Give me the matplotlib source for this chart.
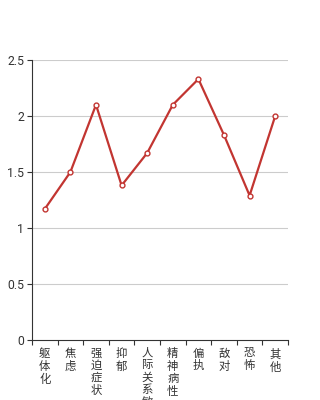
import matplotlib
matplotlib.use('Agg')
import matplotlib.pyplot as plt
import numpy as np

plt.rcParams['font.family'] = ['Noto Sans CJK SC', 'DejaVu Sans']

# Data
categories = ['躯体化', '焦虑', '强迫症状', '抑郁', '人际关系敏感', '精神病性', '偏执', '敌对', '恐怖', '其他']
values = [1.17, 1.5, 2.1, 1.38, 1.67, 2.1, 2.33, 1.83, 1.29, 2.0]
yticks = [0, 0.5, 1, 1.5, 2, 2.5]
ytick_labels = ['0', '0.5', '1', '1.5', '2', '2.5']

line_color = '#c23531'
text_color = '#333333'

fig = plt.figure(figsize=(3.2, 4), dpi=100)
ax = fig.add_axes([0.1, 0.15, 0.8, 0.7])

x = np.arange(len(categories))
ax.plot(x, values, color=line_color, linewidth=1.6, marker='o', markersize=3.5,
        markerfacecolor='white', markeredgecolor=line_color, markeredgewidth=1, zorder=3)

ax.set_xlim(-0.5, len(categories) - 0.5)
ax.set_ylim(0, 2.5)

# y axis
ax.set_yticks(yticks)
ax.set_yticklabels(ytick_labels, family=['Roboto', 'DejaVu Sans'])
ax.tick_params(axis='y', length=3.6, width=0.8, color=text_color, labelsize=8.8,
               labelcolor=text_color, pad=2)
for y in yticks[1:]:
    ax.axhline(y, color='#cccccc', linewidth=0.8, zorder=1)

# x axis: ticks at boundaries, labels at centers (vertical text)
ax.set_xticks(np.arange(len(categories) + 1) - 0.5)
ax.set_xticklabels([])
ax.tick_params(axis='x', which='major', length=3.6, width=0.8, color=text_color)
ax.set_xticks(x, minor=True)
ax.set_xticklabels(['\n'.join(c) for c in categories], minor=True)
ax.tick_params(axis='x', which='minor', length=0, labelsize=8.2, labelcolor=text_color, pad=6)
for lbl in ax.get_xticklabels(minor=True):
    lbl.set_linespacing(1.2)
    lbl.set_verticalalignment('top')

for s in ['top', 'right']:
    ax.spines[s].set_visible(False)
for s in ['left', 'bottom']:
    ax.spines[s].set_color(text_color)
    ax.spines[s].set_linewidth(0.8)

fig.savefig('out.png', dpi=100)
